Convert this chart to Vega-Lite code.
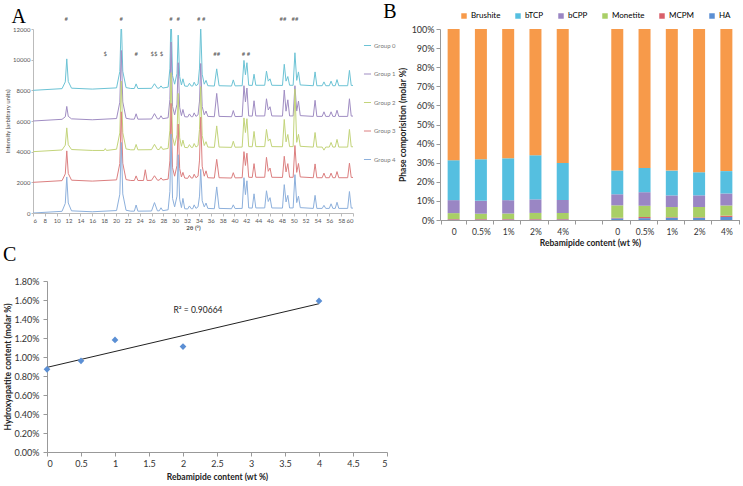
{
  "$schema": "https://vega.github.io/schema/vega-lite/v6.json",
  "padding": {"left": 3, "top": 2, "right": 0, "bottom": 0},
  "background": "white",
  "config": {"view": {"stroke": null}, "font": "Lato", "axis": {"grid": false, "domainColor": "#999", "tickColor": "#999", "labelColor": "#333", "titleColor": "#222", "labelOverlap": false}},
  "datasets": {
    "xrd": [
      {"g":0,"t":6,"i":8000},{"g":0,"t":10.9,"i":8110},{"g":0,"t":11.45,"i":8550},{"g":0,"t":11.7,"i":10050},{"g":0,"t":11.95,"i":8580},{"g":0,"t":12.5,"i":8140},{"g":0,"t":16,"i":8080},{"g":0,"t":20.1,"i":8160},{"g":0,"t":20.65,"i":9225},{"g":0,"t":20.9,"i":12600},{"g":0,"t":21.15,"i":9245},{"g":0,"t":21.7,"i":8180},{"g":0,"t":22.5,"i":8120},{"g":0,"t":23.1,"i":8120},{"g":0,"t":23.4,"i":8420},{"g":0,"t":23.7,"i":8120},{"g":0,"t":26,"i":8130},{"g":0,"t":26.5,"i":8430},{"g":0,"t":27,"i":8140},{"g":0,"t":27.3,"i":8140},{"g":0,"t":27.6,"i":8290},{"g":0,"t":27.9,"i":8150},{"g":0,"t":28.8,"i":8210},{"g":0,"t":29.1,"i":9400},{"g":0,"t":29.3,"i":13150},{"g":0,"t":29.55,"i":8950},{"g":0,"t":29.9,"i":8400},{"g":0,"t":30.3,"i":9100},{"g":0,"t":30.5,"i":11600},{"g":0,"t":30.75,"i":8900},{"g":0,"t":31.05,"i":8350},{"g":0,"t":31.3,"i":8750},{"g":0,"t":31.6,"i":8280},{"g":0,"t":32.1,"i":8260},{"g":0,"t":32.4,"i":8460},{"g":0,"t":32.7,"i":8280},{"g":0,"t":32.95,"i":8280},{"g":0,"t":33.2,"i":8530},{"g":0,"t":33.5,"i":8300},{"g":0,"t":33.85,"i":8400},{"g":0,"t":34.1,"i":9450},{"g":0,"t":34.3,"i":12250},{"g":0,"t":34.55,"i":9050},{"g":0,"t":34.9,"i":8400},{"g":0,"t":35.2,"i":8650},{"g":0,"t":35.5,"i":8300},{"g":0,"t":36.6,"i":8280},{"g":0,"t":37,"i":9400},{"g":0,"t":37.4,"i":8300},{"g":0,"t":39.5,"i":8280},{"g":0,"t":39.8,"i":8680},{"g":0,"t":40.1,"i":8290},{"g":0,"t":41.3,"i":8300},{"g":0,"t":41.6,"i":9950},{"g":0,"t":41.85,"i":9020},{"g":0,"t":42.1,"i":9800},{"g":0,"t":42.4,"i":8330},{"g":0,"t":43,"i":8320},{"g":0,"t":43.3,"i":9050},{"g":0,"t":43.6,"i":8330},{"g":0,"t":45.1,"i":8330},{"g":0,"t":45.4,"i":9250},{"g":0,"t":45.7,"i":8600},{"g":0,"t":46,"i":8750},{"g":0,"t":46.3,"i":8330},{"g":0,"t":48.1,"i":8320},{"g":0,"t":48.4,"i":9700},{"g":0,"t":48.7,"i":8600},{"g":0,"t":49,"i":8900},{"g":0,"t":49.3,"i":8330},{"g":0,"t":49.9,"i":8330},{"g":0,"t":50.2,"i":10450},{"g":0,"t":50.5,"i":8650},{"g":0,"t":50.8,"i":9200},{"g":0,"t":51.1,"i":8350},{"g":0,"t":53.3,"i":8300},{"g":0,"t":53.6,"i":9200},{"g":0,"t":53.9,"i":8300},{"g":0,"t":54.8,"i":8300},{"g":0,"t":55.1,"i":8550},{"g":0,"t":55.4,"i":8300},{"g":0,"t":56,"i":8300},{"g":0,"t":56.3,"i":8600},{"g":0,"t":56.6,"i":8300},{"g":0,"t":57,"i":8300},{"g":0,"t":57.3,"i":8700},{"g":0,"t":57.6,"i":8300},{"g":0,"t":59.1,"i":8300},{"g":0,"t":59.4,"i":9300},{"g":0,"t":59.7,"i":8320},{"g":0,"t":60,"i":8320},

      {"g":1,"t":6,"i":6000},{"g":1,"t":10.9,"i":6110},{"g":1,"t":11.45,"i":6275},{"g":1,"t":11.7,"i":6950},{"g":1,"t":11.95,"i":6305},{"g":1,"t":12.5,"i":6140},{"g":1,"t":16,"i":6080},{"g":1,"t":20.1,"i":6160},{"g":1,"t":20.65,"i":7225},{"g":1,"t":20.9,"i":10600},{"g":1,"t":21.15,"i":7245},{"g":1,"t":21.7,"i":6180},{"g":1,"t":22.5,"i":6120},{"g":1,"t":23.1,"i":6120},{"g":1,"t":23.4,"i":6470},{"g":1,"t":23.7,"i":6120},{"g":1,"t":26,"i":6130},{"g":1,"t":26.5,"i":6480},{"g":1,"t":27,"i":6140},{"g":1,"t":27.3,"i":6140},{"g":1,"t":27.6,"i":6340},{"g":1,"t":27.9,"i":6150},{"g":1,"t":28.8,"i":6210},{"g":1,"t":29.1,"i":7400},{"g":1,"t":29.3,"i":11150},{"g":1,"t":29.55,"i":6950},{"g":1,"t":29.9,"i":6400},{"g":1,"t":30.3,"i":7100},{"g":1,"t":30.5,"i":9800},{"g":1,"t":30.75,"i":6900},{"g":1,"t":31.05,"i":6350},{"g":1,"t":31.3,"i":6750},{"g":1,"t":31.6,"i":6280},{"g":1,"t":32.1,"i":6260},{"g":1,"t":32.4,"i":6460},{"g":1,"t":32.7,"i":6280},{"g":1,"t":32.95,"i":6280},{"g":1,"t":33.2,"i":6530},{"g":1,"t":33.5,"i":6300},{"g":1,"t":33.85,"i":6400},{"g":1,"t":34.1,"i":7300},{"g":1,"t":34.3,"i":9750},{"g":1,"t":34.55,"i":6950},{"g":1,"t":34.9,"i":6400},{"g":1,"t":35.2,"i":6650},{"g":1,"t":35.5,"i":6300},{"g":1,"t":36.6,"i":6280},{"g":1,"t":37,"i":7800},{"g":1,"t":37.4,"i":6300},{"g":1,"t":39.5,"i":6280},{"g":1,"t":39.8,"i":6680},{"g":1,"t":40.1,"i":6290},{"g":1,"t":41.3,"i":6300},{"g":1,"t":41.6,"i":8300},{"g":1,"t":41.85,"i":7250},{"g":1,"t":42.1,"i":8150},{"g":1,"t":42.4,"i":6330},{"g":1,"t":43,"i":6320},{"g":1,"t":43.3,"i":7320},{"g":1,"t":43.6,"i":6330},{"g":1,"t":45.1,"i":6330},{"g":1,"t":45.4,"i":7450},{"g":1,"t":45.7,"i":6720},{"g":1,"t":46,"i":6930},{"g":1,"t":46.3,"i":6330},{"g":1,"t":48.1,"i":6320},{"g":1,"t":48.4,"i":8020},{"g":1,"t":48.7,"i":6640},{"g":1,"t":49,"i":7380},{"g":1,"t":49.3,"i":6330},{"g":1,"t":49.9,"i":6330},{"g":1,"t":50.2,"i":8300},{"g":1,"t":50.5,"i":6650},{"g":1,"t":50.8,"i":7300},{"g":1,"t":51.1,"i":6350},{"g":1,"t":53.3,"i":6300},{"g":1,"t":53.6,"i":7350},{"g":1,"t":53.9,"i":6300},{"g":1,"t":54.8,"i":6300},{"g":1,"t":55.1,"i":6600},{"g":1,"t":55.4,"i":6300},{"g":1,"t":56,"i":6300},{"g":1,"t":56.3,"i":6600},{"g":1,"t":56.6,"i":6300},{"g":1,"t":57,"i":6300},{"g":1,"t":57.3,"i":6700},{"g":1,"t":57.6,"i":6300},{"g":1,"t":59.1,"i":6300},{"g":1,"t":59.4,"i":7450},{"g":1,"t":59.7,"i":6320},{"g":1,"t":60,"i":6320},

      {"g":2,"t":6,"i":4000},{"g":2,"t":10.9,"i":4110},{"g":2,"t":11.45,"i":4425},{"g":2,"t":11.7,"i":5550},{"g":2,"t":11.95,"i":4455},{"g":2,"t":12.5,"i":4140},{"g":2,"t":16,"i":4080},{"g":2,"t":18,"i":4080},{"g":2,"t":18.2,"i":4200},{"g":2,"t":18.4,"i":4080},{"g":2,"t":20.1,"i":4160},{"g":2,"t":20.65,"i":5225},{"g":2,"t":20.9,"i":8600},{"g":2,"t":21.15,"i":5245},{"g":2,"t":21.7,"i":4180},{"g":2,"t":22.5,"i":4120},{"g":2,"t":23.1,"i":4120},{"g":2,"t":23.4,"i":4470},{"g":2,"t":23.7,"i":4120},{"g":2,"t":26,"i":4130},{"g":2,"t":26.5,"i":4480},{"g":2,"t":27,"i":4140},{"g":2,"t":27.3,"i":4140},{"g":2,"t":27.6,"i":4340},{"g":2,"t":27.9,"i":4150},{"g":2,"t":28.8,"i":4210},{"g":2,"t":29.1,"i":5400},{"g":2,"t":29.3,"i":9150},{"g":2,"t":29.55,"i":4950},{"g":2,"t":29.9,"i":4400},{"g":2,"t":30.3,"i":5100},{"g":2,"t":30.5,"i":7800},{"g":2,"t":30.75,"i":4900},{"g":2,"t":31.05,"i":4350},{"g":2,"t":31.3,"i":4750},{"g":2,"t":31.6,"i":4280},{"g":2,"t":32.1,"i":4260},{"g":2,"t":32.4,"i":4460},{"g":2,"t":32.7,"i":4280},{"g":2,"t":32.95,"i":4280},{"g":2,"t":33.2,"i":4530},{"g":2,"t":33.5,"i":4300},{"g":2,"t":33.85,"i":4400},{"g":2,"t":34.1,"i":5450},{"g":2,"t":34.3,"i":8250},{"g":2,"t":34.55,"i":5050},{"g":2,"t":34.9,"i":4400},{"g":2,"t":35.2,"i":4650},{"g":2,"t":35.5,"i":4300},{"g":2,"t":36.6,"i":4280},{"g":2,"t":37,"i":5680},{"g":2,"t":37.4,"i":4300},{"g":2,"t":39.5,"i":4280},{"g":2,"t":39.8,"i":4680},{"g":2,"t":40.1,"i":4290},{"g":2,"t":41.3,"i":4300},{"g":2,"t":41.6,"i":6200},{"g":2,"t":41.85,"i":5250},{"g":2,"t":42.1,"i":6150},{"g":2,"t":42.4,"i":4330},{"g":2,"t":43,"i":4320},{"g":2,"t":43.3,"i":5320},{"g":2,"t":43.6,"i":4330},{"g":2,"t":45.1,"i":4330},{"g":2,"t":45.4,"i":5450},{"g":2,"t":45.7,"i":4690},{"g":2,"t":46,"i":4830},{"g":2,"t":46.3,"i":4330},{"g":2,"t":48.1,"i":4320},{"g":2,"t":48.4,"i":6100},{"g":2,"t":48.7,"i":4640},{"g":2,"t":49,"i":5120},{"g":2,"t":49.3,"i":4330},{"g":2,"t":49.9,"i":4330},{"g":2,"t":50.2,"i":8080},{"g":2,"t":50.5,"i":4610},{"g":2,"t":50.8,"i":5130},{"g":2,"t":51.1,"i":4350},{"g":2,"t":53.3,"i":4300},{"g":2,"t":53.6,"i":5250},{"g":2,"t":53.9,"i":4300},{"g":2,"t":54.8,"i":4300},{"g":2,"t":55.1,"i":4100},{"g":2,"t":55.4,"i":4300},{"g":2,"t":56,"i":4300},{"g":2,"t":56.3,"i":4600},{"g":2,"t":56.6,"i":4300},{"g":2,"t":57,"i":4300},{"g":2,"t":57.3,"i":4800},{"g":2,"t":57.6,"i":4300},{"g":2,"t":59.1,"i":4300},{"g":2,"t":59.4,"i":5450},{"g":2,"t":59.7,"i":4320},{"g":2,"t":60,"i":4320},

      {"g":3,"t":6,"i":2000},{"g":3,"t":10.9,"i":2110},{"g":3,"t":11.45,"i":2550},{"g":3,"t":11.7,"i":4050},{"g":3,"t":11.95,"i":2580},{"g":3,"t":12.5,"i":2140},{"g":3,"t":16,"i":2080},{"g":3,"t":20.1,"i":2160},{"g":3,"t":20.65,"i":3225},{"g":3,"t":20.9,"i":6600},{"g":3,"t":21.15,"i":3245},{"g":3,"t":21.7,"i":2180},{"g":3,"t":22.5,"i":2120},{"g":3,"t":23.1,"i":2120},{"g":3,"t":23.4,"i":2420},{"g":3,"t":23.7,"i":2120},{"g":3,"t":24.65,"i":2120},{"g":3,"t":24.95,"i":2820},{"g":3,"t":25.25,"i":2120},{"g":3,"t":26,"i":2130},{"g":3,"t":26.5,"i":2430},{"g":3,"t":27,"i":2140},{"g":3,"t":27.3,"i":2140},{"g":3,"t":27.6,"i":2290},{"g":3,"t":27.9,"i":2150},{"g":3,"t":28.8,"i":2210},{"g":3,"t":29.1,"i":3400},{"g":3,"t":29.3,"i":7150},{"g":3,"t":29.55,"i":2950},{"g":3,"t":29.9,"i":2400},{"g":3,"t":30.3,"i":3100},{"g":3,"t":30.5,"i":5800},{"g":3,"t":30.75,"i":2900},{"g":3,"t":31.05,"i":2350},{"g":3,"t":31.3,"i":2650},{"g":3,"t":31.6,"i":2280},{"g":3,"t":32.1,"i":2260},{"g":3,"t":32.4,"i":2460},{"g":3,"t":32.7,"i":2280},{"g":3,"t":32.95,"i":2280},{"g":3,"t":33.2,"i":2530},{"g":3,"t":33.5,"i":2300},{"g":3,"t":33.85,"i":2400},{"g":3,"t":34.1,"i":3450},{"g":3,"t":34.3,"i":6250},{"g":3,"t":34.55,"i":3050},{"g":3,"t":34.9,"i":2400},{"g":3,"t":35.2,"i":2750},{"g":3,"t":35.5,"i":2300},{"g":3,"t":36.6,"i":2280},{"g":3,"t":37,"i":3500},{"g":3,"t":37.4,"i":2300},{"g":3,"t":39.5,"i":2280},{"g":3,"t":39.8,"i":2630},{"g":3,"t":40.1,"i":2290},{"g":3,"t":41.3,"i":2300},{"g":3,"t":41.6,"i":4000},{"g":3,"t":41.85,"i":3100},{"g":3,"t":42.1,"i":3900},{"g":3,"t":42.4,"i":2330},{"g":3,"t":43,"i":2320},{"g":3,"t":43.3,"i":3220},{"g":3,"t":43.6,"i":2330},{"g":3,"t":45.1,"i":2330},{"g":3,"t":45.4,"i":3630},{"g":3,"t":45.7,"i":2720},{"g":3,"t":46,"i":2930},{"g":3,"t":46.3,"i":2330},{"g":3,"t":48.1,"i":2320},{"g":3,"t":48.4,"i":3700},{"g":3,"t":48.7,"i":2680},{"g":3,"t":49,"i":3220},{"g":3,"t":49.3,"i":2330},{"g":3,"t":49.9,"i":2330},{"g":3,"t":50.2,"i":4400},{"g":3,"t":50.5,"i":2650},{"g":3,"t":50.8,"i":3230},{"g":3,"t":51.1,"i":2350},{"g":3,"t":53.3,"i":2300},{"g":3,"t":53.6,"i":3200},{"g":3,"t":53.9,"i":2300},{"g":3,"t":54.8,"i":2300},{"g":3,"t":55.1,"i":2600},{"g":3,"t":55.4,"i":2300},{"g":3,"t":56,"i":2300},{"g":3,"t":56.3,"i":2600},{"g":3,"t":56.6,"i":2300},{"g":3,"t":57,"i":2300},{"g":3,"t":57.3,"i":2700},{"g":3,"t":57.6,"i":2300},{"g":3,"t":59.1,"i":2300},{"g":3,"t":59.4,"i":3250},{"g":3,"t":59.7,"i":2320},{"g":3,"t":60,"i":2320},

      {"g":4,"t":6,"i":0},{"g":4,"t":10.9,"i":110},{"g":4,"t":11.45,"i":625},{"g":4,"t":11.7,"i":2350},{"g":4,"t":11.95,"i":655},{"g":4,"t":12.5,"i":140},{"g":4,"t":16,"i":80},{"g":4,"t":20.1,"i":160},{"g":4,"t":20.65,"i":1225},{"g":4,"t":20.9,"i":4600},{"g":4,"t":21.15,"i":1245},{"g":4,"t":21.7,"i":180},{"g":4,"t":22.5,"i":120},{"g":4,"t":23.1,"i":120},{"g":4,"t":23.4,"i":520},{"g":4,"t":23.7,"i":120},{"g":4,"t":26,"i":130},{"g":4,"t":26.5,"i":680},{"g":4,"t":27,"i":140},{"g":4,"t":27.3,"i":140},{"g":4,"t":27.6,"i":340},{"g":4,"t":27.9,"i":150},{"g":4,"t":28.8,"i":210},{"g":4,"t":29.1,"i":1400},{"g":4,"t":29.3,"i":5150},{"g":4,"t":29.55,"i":950},{"g":4,"t":29.9,"i":400},{"g":4,"t":30.3,"i":1100},{"g":4,"t":30.5,"i":3800},{"g":4,"t":30.75,"i":900},{"g":4,"t":31.05,"i":350},{"g":4,"t":31.3,"i":950},{"g":4,"t":31.6,"i":280},{"g":4,"t":32.1,"i":260},{"g":4,"t":32.4,"i":460},{"g":4,"t":32.7,"i":280},{"g":4,"t":32.95,"i":280},{"g":4,"t":33.2,"i":530},{"g":4,"t":33.5,"i":300},{"g":4,"t":33.85,"i":400},{"g":4,"t":34.1,"i":1100},{"g":4,"t":34.3,"i":2850},{"g":4,"t":34.55,"i":800},{"g":4,"t":34.9,"i":400},{"g":4,"t":35.2,"i":650},{"g":4,"t":35.5,"i":300},{"g":4,"t":36.6,"i":280},{"g":4,"t":37,"i":1700},{"g":4,"t":37.4,"i":300},{"g":4,"t":39.5,"i":280},{"g":4,"t":39.8,"i":530},{"g":4,"t":40.1,"i":290},{"g":4,"t":41.3,"i":300},{"g":4,"t":41.6,"i":2300},{"g":4,"t":41.85,"i":1200},{"g":4,"t":42.1,"i":2100},{"g":4,"t":42.4,"i":330},{"g":4,"t":43,"i":320},{"g":4,"t":43.3,"i":1250},{"g":4,"t":43.6,"i":330},{"g":4,"t":45.1,"i":330},{"g":4,"t":45.4,"i":1450},{"g":4,"t":45.7,"i":750},{"g":4,"t":46,"i":1000},{"g":4,"t":46.3,"i":330},{"g":4,"t":48.1,"i":320},{"g":4,"t":48.4,"i":1850},{"g":4,"t":48.7,"i":720},{"g":4,"t":49,"i":1150},{"g":4,"t":49.3,"i":330},{"g":4,"t":49.9,"i":330},{"g":4,"t":50.2,"i":2500},{"g":4,"t":50.5,"i":680},{"g":4,"t":50.8,"i":1100},{"g":4,"t":51.1,"i":350},{"g":4,"t":53.3,"i":300},{"g":4,"t":53.6,"i":1150},{"g":4,"t":53.9,"i":300},{"g":4,"t":54.8,"i":300},{"g":4,"t":55.1,"i":500},{"g":4,"t":55.4,"i":300},{"g":4,"t":56,"i":300},{"g":4,"t":56.3,"i":600},{"g":4,"t":56.6,"i":300},{"g":4,"t":57,"i":300},{"g":4,"t":57.3,"i":700},{"g":4,"t":57.6,"i":300},{"g":4,"t":59.1,"i":300},{"g":4,"t":59.4,"i":1400},{"g":4,"t":59.7,"i":320},{"g":4,"t":60,"i":320}
    ],
    "ann": [
      {"t":11.6,"i":12650,"s":"#"},{"t":20.9,"i":12650,"s":"#"},{"t":29.3,"i":12650,"s":"#"},{"t":30.5,"i":12650,"s":"#"},{"t":34.4,"i":12650,"s":"# #"},{"t":48.2,"i":12650,"s":"##"},{"t":50.2,"i":12650,"s":"##"},
      {"t":18.2,"i":10350,"s":"$"},{"t":23.4,"i":10350,"s":"#"},{"t":26.4,"i":10350,"s":"$$"},{"t":27.7,"i":10350,"s":"$"},{"t":37.0,"i":10350,"s":"##"},{"t":41.95,"i":10350,"s":"# #"}
    ],
    "phase": [
      {"c":"1:0","p":"HA","v":0.2},{"c":"1:0","p":"MCPM","v":0.3},{"c":"1:0","p":"Monetite","v":3.1},{"c":"1:0","p":"bCPP","v":6.8},{"c":"1:0","p":"bTCP","v":20.9},{"c":"1:0","p":"Brushite","v":68.7},
      {"c":"1:0.5%","p":"HA","v":0.2},{"c":"1:0.5%","p":"MCPM","v":0.3},{"c":"1:0.5%","p":"Monetite","v":2.8},{"c":"1:0.5%","p":"bCPP","v":6.8},{"c":"1:0.5%","p":"bTCP","v":21.7},{"c":"1:0.5%","p":"Brushite","v":68.2},
      {"c":"1:1%","p":"HA","v":0.2},{"c":"1:1%","p":"MCPM","v":0.3},{"c":"1:1%","p":"Monetite","v":2.9},{"c":"1:1%","p":"bCPP","v":7.0},{"c":"1:1%","p":"bTCP","v":21.9},{"c":"1:1%","p":"Brushite","v":67.7},
      {"c":"1:2%","p":"HA","v":0.2},{"c":"1:2%","p":"MCPM","v":0.3},{"c":"1:2%","p":"Monetite","v":3.2},{"c":"1:2%","p":"bCPP","v":7.1},{"c":"1:2%","p":"bTCP","v":23.1},{"c":"1:2%","p":"Brushite","v":66.1},
      {"c":"1:4%","p":"HA","v":0.2},{"c":"1:4%","p":"MCPM","v":0.3},{"c":"1:4%","p":"Monetite","v":3.2},{"c":"1:4%","p":"bCPP","v":6.8},{"c":"1:4%","p":"bTCP","v":19.4},{"c":"1:4%","p":"Brushite","v":70.1},
      {"c":"2:0","p":"HA","v":0.87},{"c":"2:0","p":"MCPM","v":0.3},{"c":"2:0","p":"Monetite","v":6.5},{"c":"2:0","p":"bCPP","v":5.8},{"c":"2:0","p":"bTCP","v":12.5},{"c":"2:0","p":"Brushite","v":74.03},
      {"c":"2:0.5%","p":"HA","v":0.96},{"c":"2:0.5%","p":"MCPM","v":0.6},{"c":"2:0.5%","p":"Monetite","v":5.9},{"c":"2:0.5%","p":"bCPP","v":7.1},{"c":"2:0.5%","p":"bTCP","v":12.7},{"c":"2:0.5%","p":"Brushite","v":72.74},
      {"c":"2:1%","p":"HA","v":1.18},{"c":"2:1%","p":"MCPM","v":0.3},{"c":"2:1%","p":"Monetite","v":5.3},{"c":"2:1%","p":"bCPP","v":6.1},{"c":"2:1%","p":"bTCP","v":13.0},{"c":"2:1%","p":"Brushite","v":74.12},
      {"c":"2:2%","p":"HA","v":1.11},{"c":"2:2%","p":"MCPM","v":0.3},{"c":"2:2%","p":"Monetite","v":5.4},{"c":"2:2%","p":"bCPP","v":6.1},{"c":"2:2%","p":"bTCP","v":12.1},{"c":"2:2%","p":"Brushite","v":74.99},
      {"c":"2:4%","p":"HA","v":1.59},{"c":"2:4%","p":"MCPM","v":0.7},{"c":"2:4%","p":"Monetite","v":5.3},{"c":"2:4%","p":"bCPP","v":6.3},{"c":"2:4%","p":"bTCP","v":11.7},{"c":"2:4%","p":"Brushite","v":74.41}
    ],
    "ha": [
      {"x":0,"y":0.0087},{"x":0.5,"y":0.0096},{"x":1,"y":0.0118},{"x":2,"y":0.0111},{"x":4,"y":0.0159}
    ]
  },
  "resolve": {"scale": {"color": "independent"}, "legend": {"color": "independent"}},
  "columns": 1,
  "align": "none",
  "spacing": -2,
  "concat": [
    {
      "resolve": {"scale": {"color": "independent"}, "legend": {"color": "independent"}},
      "bounds": "flush",
      "spacing": 87,
      "hconcat": [
        {
          "width": 320,
          "height": 184,
          "title": {"text": "A", "anchor": "start", "frame": "bounds", "font": "Liberation Serif", "fontSize": 20, "fontWeight": "normal", "color": "#000", "offset": -11, "dx": 7},
          "layer": [
            {
              "data": {"name": "xrd"},
              "mark": {"type": "line", "strokeWidth": 1, "clip": true},
              "encoding": {
                "x": {"field": "t", "type": "quantitative", "scale": {"domain": [6, 60], "nice": false},
                  "axis": {"values": [6,8,10,12,14,16,18,20,22,24,26,28,30,32,34,36,38,40,42,44,46,48,50,52,54,56,58,60], "tickCount": 28, "labelOverlap": false, "labelFontSize": 6, "labelColor": "#555", "tickSize": 3, "labelPadding": 1, "title": "2θ (°)", "titleFontSize": 6, "titleFontWeight": "bold", "titleColor": "#555", "titlePadding": 1, "domainColor": "#bbb", "tickColor": "#bbb"}},
                "y": {"field": "i", "type": "quantitative", "scale": {"domain": [0, 12000], "nice": false},
                  "axis": {"values": [0,2000,4000,6000,8000,10000,12000], "tickCount": 7, "labelOverlap": false, "format": "d", "labelFontSize": 6, "labelColor": "#555", "tickSize": 2, "labelPadding": 1, "title": "Intensity (arbitrary units)", "titleFontSize": 6, "titleFontWeight": "normal", "titleColor": "#444", "titlePadding": 2, "domainColor": "#bbb", "tickColor": "#bbb"}},
                "color": {"field": "g", "type": "nominal",
                  "scale": {"domain": [0,1,2,3,4], "range": ["#6cc3d5", "#a08dc3", "#c3d47a", "#dc7f80", "#8db0dc"]},
                  "legend": {"orient": "none", "legendX": 330, "legendY": 12, "title": null, "symbolType": "stroke", "symbolSize": 50, "symbolStrokeWidth": 1, "labelFontSize": 6, "labelColor": "#777", "rowPadding": 20.5, "labelOffset": 2, "labelExpr": "'Group ' + datum.label"}}
              }
            },
            {
              "data": {"name": "ann"},
              "mark": {"type": "text", "fontSize": 6, "color": "#555", "baseline": "middle"},
              "encoding": {
                "x": {"field": "t", "type": "quantitative"},
                "y": {"field": "i", "type": "quantitative"},
                "text": {"field": "s"}
              }
            }
          ]
        },
        {
          "width": 300,
          "height": 191,
          "title": {"text": "B", "anchor": "start", "frame": "bounds", "font": "Liberation Serif", "fontSize": 20, "fontWeight": "normal", "color": "#000", "offset": -10, "dx": -15},
          "data": {"name": "phase"},
          "transform": [{"calculate": "indexof(['HA','MCPM','Monetite','bCPP','bTCP','Brushite'], datum.p)", "as": "ord"}],
          "mark": {"type": "bar", "width": 12},
          "encoding": {
            "x": {"field": "c", "type": "nominal", "sort": null,
              "scale": {"domain": ["1:0","1:0.5%","1:1%","1:2%","1:4%","--","2:0","2:0.5%","2:1%","2:2%","2:4%"]},
              "axis": {"labelExpr": "datum.value ? substring(datum.value, 2) : ''", "labelOverlap": false, "labelAngle": 0, "labelFontSize": 8.5, "tickBand": "extent", "tickSize": 4, "labelPadding": 3, "title": "Rebamipide content (wt %)", "titleFontSize": 8.5, "titleFontWeight": "bold", "titlePadding": 3, "domainColor": "#999"}},
            "y": {"field": "v", "type": "quantitative", "stack": "normalize",
              "axis": {"values": [0,0.1,0.2,0.3,0.4,0.5,0.6,0.7,0.8,0.9,1], "tickCount": 11, "labelOverlap": false, "format": ".0%", "labelFontSize": 9, "tickSize": 4, "labelPadding": 2, "title": "Phase comporisition (molar %)", "titleFontSize": 8.5, "titleFontWeight": "bold", "titlePadding": 4}},
            "color": {"field": "p", "type": "nominal",
              "scale": {"domain": ["Brushite","bTCP","bCPP","Monetite","MCPM","HA"], "range": ["#f79a4a", "#55bfe0", "#9a86c4", "#a9cf66", "#d9606a", "#5b8fd4"]},
              "legend": {"orient": "none", "legendX": 20, "legendY": -17, "direction": "horizontal", "title": null, "symbolType": "square", "symbolSize": 30, "labelFontSize": 8, "columnPadding": 13, "labelOffset": 3}},
            "order": {"field": "ord", "type": "quantitative"}
          }
        }
      ]
    },
    {
      "bounds": "flush",
      "spacing": 13,
      "hconcat": [
        {
          "width": 1,
          "height": 1,
          "data": {"values": []},
          "mark": {"type": "text"}
        },
        {
          "width": 340,
          "height": 171,
          "title": {"text": "C", "anchor": "start", "frame": "bounds", "font": "Liberation Serif", "fontSize": 20, "fontWeight": "normal", "color": "#000", "offset": 12},
          "data": {"name": "ha"},
          "layer": [
            {
              "transform": [{"regression": "y", "on": "x"}],
              "mark": {"type": "line", "color": "#222", "strokeWidth": 1},
              "encoding": {
                "x": {"field": "x", "type": "quantitative"},
                "y": {"field": "y", "type": "quantitative"}
              }
            },
            {
              "mark": {"type": "point", "shape": "diamond", "filled": true, "size": 45, "color": "#5b8fd4", "opacity": 1},
              "encoding": {
                "x": {"field": "x", "type": "quantitative", "scale": {"domain": [0, 5], "nice": false},
                  "axis": {"values": [0,0.5,1,1.5,2,2.5,3,3.5,4,4.5,5], "tickCount": 11, "labelOverlap": false, "format": "~g", "labelFontSize": 9, "tickSize": 4, "labelPadding": 3, "title": "Rebamipide content (wt %)", "titleFontSize": 8.5, "titleFontWeight": "bold", "titlePadding": 4}},
                "y": {"field": "y", "type": "quantitative", "scale": {"domain": [0, 0.018], "nice": false},
                  "axis": {"values": [0,0.002,0.004,0.006,0.008,0.01,0.012,0.014,0.016,0.018], "tickCount": 10, "labelOverlap": false, "format": ".2%", "labelFontSize": 9, "tickSize": 4, "labelPadding": 4, "title": "Hydroxyapatite content (molar %)", "titleFontSize": 8.5, "titleFontWeight": "bold", "titlePadding": 2}}
              }
            },
            {
              "data": {"values": [{"x": 1.86, "y": 0.0149, "s": "R² = 0.90664"}]},
              "mark": {"type": "text", "align": "left", "baseline": "middle", "fontSize": 8.5, "color": "#222"},
              "encoding": {
                "x": {"field": "x", "type": "quantitative"},
                "y": {"field": "y", "type": "quantitative"},
                "text": {"field": "s"}
              }
            }
          ]
        }
      ]
    }
  ]
}
